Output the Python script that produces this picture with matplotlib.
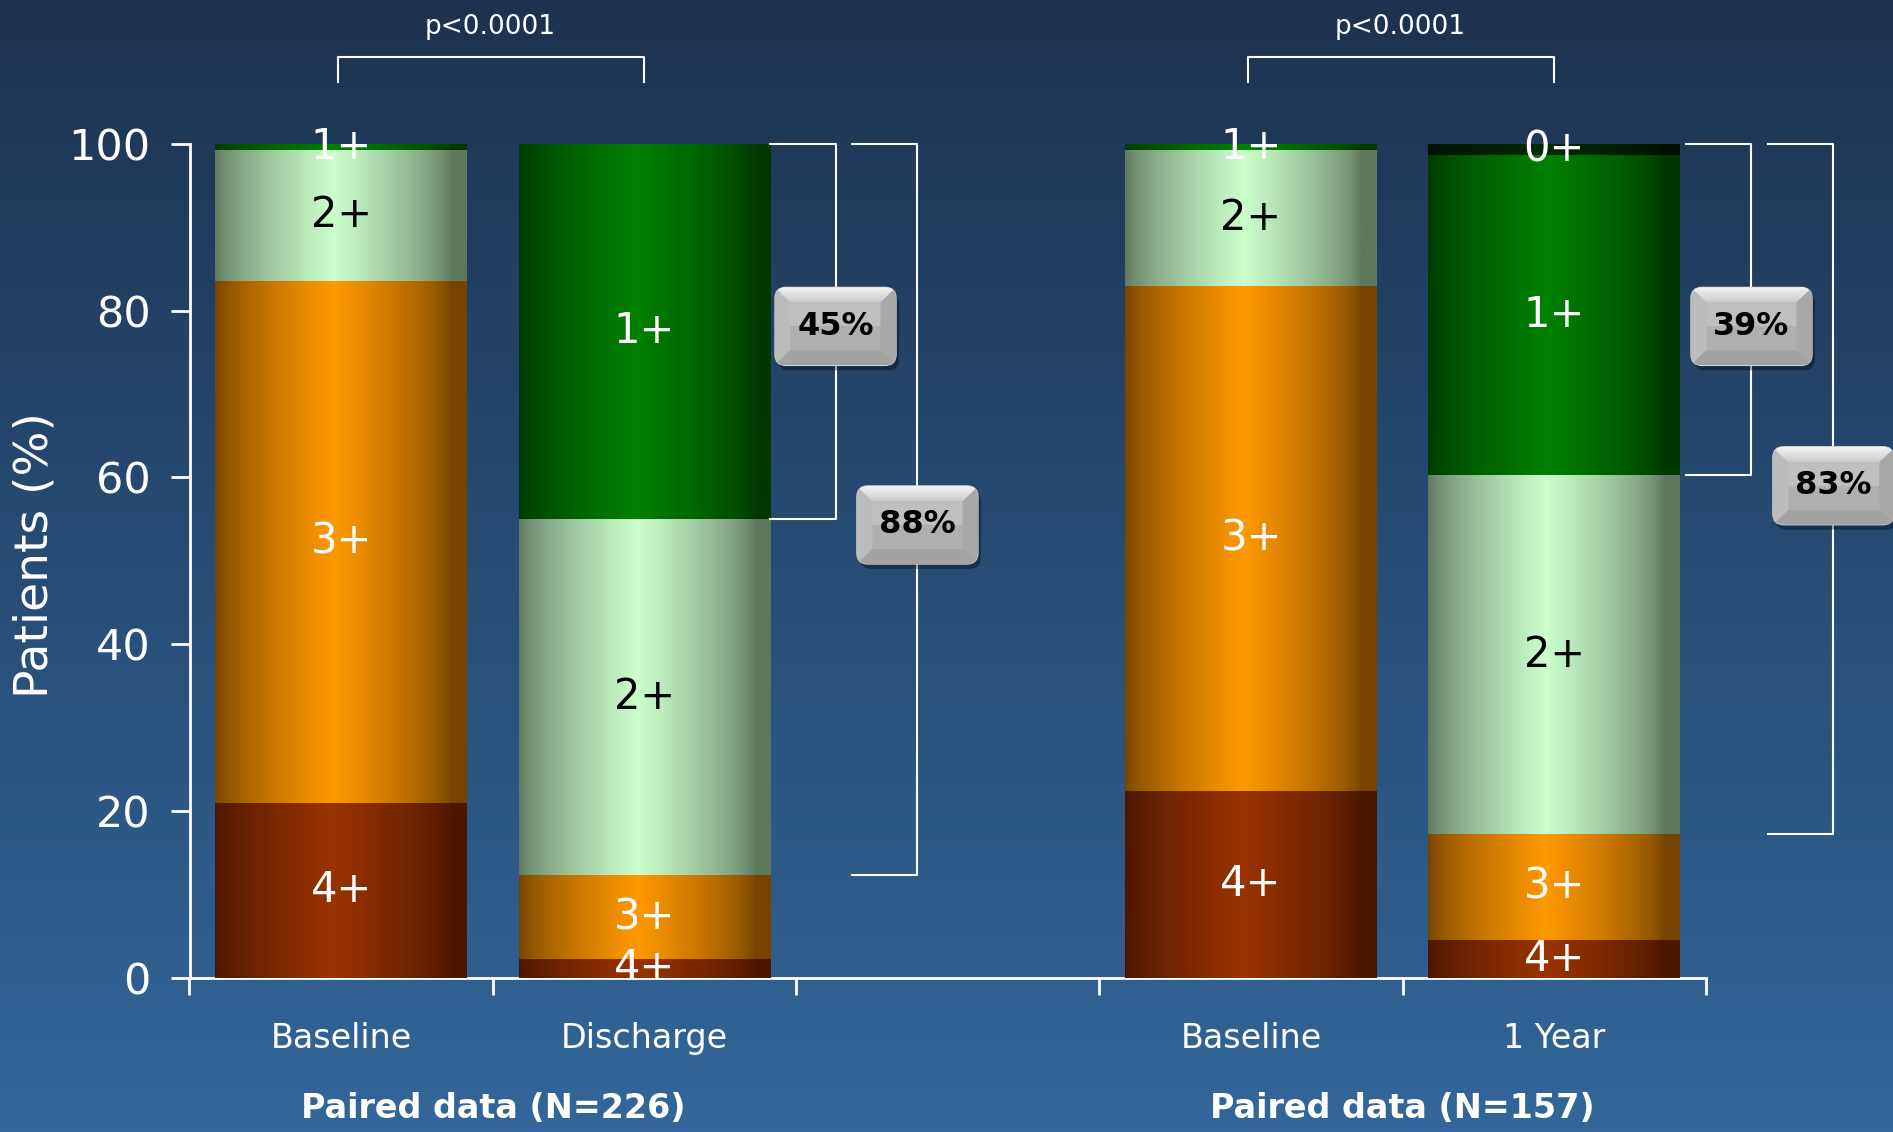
import numpy as np
import matplotlib
matplotlib.use('Agg')
import matplotlib.pyplot as plt
from matplotlib.colors import to_rgb
from matplotlib.patches import FancyBboxPatch

# --- DATA ---
bar_labels = ['Baseline', 'Discharge', 'Baseline', '1 Year']
bar_pos = [0, 1, 3, 4]
grades = ['4+', '3+', '2+', '1+', '0+']
grade_4 = [21.0, 2.3, 22.4, 4.6]
grade_3 = [62.6, 10.0, 60.5, 12.6]
grade_2 = [15.7, 42.7, 16.4, 43.1]
grade_1 = [0.7, 45.0, 0.7, 38.3]
grade_0 = [0.0, 0.0, 0.0, 1.4]
group_labels = ['Paired data (N=226)', 'Paired data (N=157)']
p_labels = ['p<0.0001', 'p<0.0001']
# callouts: (bar index, lowest layer included, text, box y)
callouts = [(1, 3, '45%', 78.1), (1, 2, '88%', 54.3),
            (3, 3, '39%', 78.1), (3, 2, '83%', 59.0)]

# --- STYLE ---
W, H = 1893, 1132
edge_cols = ['#4a1600', '#764400', '#5e785e', '#003800', '#000f00']
mid_cols = ['#993300', '#ff9900', '#ccffcc', '#008000', '#002a00']
txt_cols = ['white', 'white', 'black', 'white', 'white']
BAR_W = 0.83

fig = plt.figure(figsize=(W / 100, H / 100), dpi=100)

# background gradient
bg = fig.add_axes([0, 0, 1, 1], zorder=-5)
top, bot = np.array(to_rgb('#1c3350')), np.array(to_rgb('#33669a'))
t = np.linspace(0, 1, 256)[:, None, None]
bg.imshow(top + (bot - top) * t, aspect='auto', extent=[0, 1, 0, 1])
bg.axis('off')

ax = fig.add_axes([189.5 / W, 1 - 977.9 / H, 1516.5 / W, 834.2 / H])
ax.set_facecolor('none')

layers = [grade_4, grade_3, grade_2, grade_1, grade_0]
bottoms = np.zeros(len(bar_pos))
tops = []
prof_x = np.linspace(0, 1, 200)
prof = np.clip(1 - np.abs(prof_x - 0.47) / 0.47, 0, 1)
prof = prof ** 0.7
for g, vals in enumerate(layers):
    bars = ax.bar(bar_pos, vals, BAR_W, bottom=bottoms, color=mid_cols[g],
                  linewidth=0, zorder=2)
    e, m = np.array(to_rgb(edge_cols[g])), np.array(to_rgb(mid_cols[g]))
    grad = (e + (m - e) * prof[:, None])[None, :, :]
    for b, v, y0 in zip(bars, vals, bottoms):
        if v <= 0:
            continue
        im = ax.imshow(grad, aspect='auto', zorder=3,
                       extent=[b.get_x(), b.get_x() + b.get_width(),
                               b.get_y(), b.get_y() + b.get_height()])
        im.set_clip_path(b)
        ax.text(b.get_x() + b.get_width() / 2, y0 + v / 2, grades[g],
                ha='center', va='center', fontsize=30, color=txt_cols[g],
                zorder=5, clip_on=False)
    bottoms = bottoms + np.array(vals)
    tops.append(bottoms.copy())

ax.set_xlim(-0.5, 4.5)
ax.set_ylim(0, 100)
for s in ['top', 'right']:
    ax.spines[s].set_visible(False)
for s in ['left', 'bottom']:
    ax.spines[s].set_color('white')
    ax.spines[s].set_linewidth(2)
ax.set_yticks([0, 20, 40, 60, 80, 100])
ax.tick_params(axis='y', colors='white', labelsize=31, length=14, width=2, pad=14)
ax.set_xticks(np.arange(-0.5, 5, 1))
ax.set_xticklabels([])
ax.tick_params(axis='x', which='major', colors='white', length=12, width=2)
ax.set_xticks(bar_pos, minor=True)
ax.set_xticklabels(bar_labels, minor=True)
ax.tick_params(axis='x', which='minor', length=0, labelsize=24,
               labelcolor='white', pad=32)
ax.set_ylabel('Patients (%)', fontsize=34, color='white')
ax.yaxis.set_label_coords(-0.087, 0.507)

# group labels and p-value brackets
for k, (lab, pl) in enumerate(zip(group_labels, p_labels)):
    a, b = bar_pos[2 * k], bar_pos[2 * k + 1]
    ax.text((a + b) / 2, -0.156, lab, transform=ax.get_xaxis_transform(),
            ha='center', va='center', fontsize=24, fontweight='bold',
            color='white')
    ax.plot([a - 0.01, a - 0.01, b, b], [107.4, 110.4, 110.4, 107.4],
            color='white', lw=1.5, clip_on=False)
    ax.text((a + b) / 2 - 0.01, 114.0, pl, ha='center', va='center',
            fontsize=19, color='white', clip_on=False)

# callout brackets
ov = fig.add_axes([0, 0, 1, 1], zorder=10)
ov.set_xlim(0, W)
ov.set_ylim(0, H)
ov.axis('off')
fig.canvas.draw()
to_px = ax.transData.transform
bw, bh = 121, 78
bev = 15
yy = np.linspace(0, 1, 120)[:, None] * bh   # distance from top
xx = np.linspace(0, 1, 180)[None, :] * bw
d_top, d_bot = yy, bh - yy
d_left, d_right = xx, bw - xx
dmin = np.minimum(np.minimum(d_top, d_bot), np.minimum(d_left, d_right))
shade = np.where(yy < bh / 2, 0.75, 0.69) + 0 * xx
shade = np.where((dmin < bev) & (dmin == d_left), 0.74, shade)
shade = np.where((dmin < bev) & (dmin == d_right), 0.66, shade)
shade = np.where((dmin < bev) & (dmin == d_bot), 0.64, shade)
shade = np.where((dmin < bev) & (dmin == d_top), 0.95 - 0.15 * d_top / bev, shade)
box_rgb = np.repeat(shade[:, :, None], 3, axis=2)

for n, (i, lowest, txt, yb) in enumerate(callouts):
    xr = bar_pos[i] + BAR_W / 2 + (0.02 if i > 1 else 0.0)
    y_lo = tops[lowest - 1][i]
    x0 = xr if n % 2 == 0 else xr + 0.27
    x1 = x0 + 0.215
    ax.plot([x0, x1, x1, x0], [100, 100, y_lo, y_lo], color='white', lw=1.5,
            clip_on=False, zorder=4)
    cx, cy = to_px((x1, yb))
    sh = FancyBboxPatch((cx - bw / 2 + 3, cy - bh / 2 - 5), bw, bh,
                        boxstyle='round,pad=0,rounding_size=11',
                        fc='black', ec='none', alpha=0.35)
    ov.add_patch(sh)
    box = FancyBboxPatch((cx - bw / 2, cy - bh / 2), bw, bh,
                         boxstyle='round,pad=0,rounding_size=11',
                         fc='#b4b4b4', ec='#d0d0d0', lw=1)
    ov.add_patch(box)
    im = ov.imshow(box_rgb, origin='upper', aspect='auto', zorder=11,
                   extent=[cx - bw / 2, cx + bw / 2, cy - bh / 2, cy + bh / 2])
    im.set_clip_path(box)
    ov.text(cx, cy, txt, ha='center', va='center', fontsize=23,
            fontweight='bold', color='black', zorder=12)

fig.savefig('out.png', dpi=100)
